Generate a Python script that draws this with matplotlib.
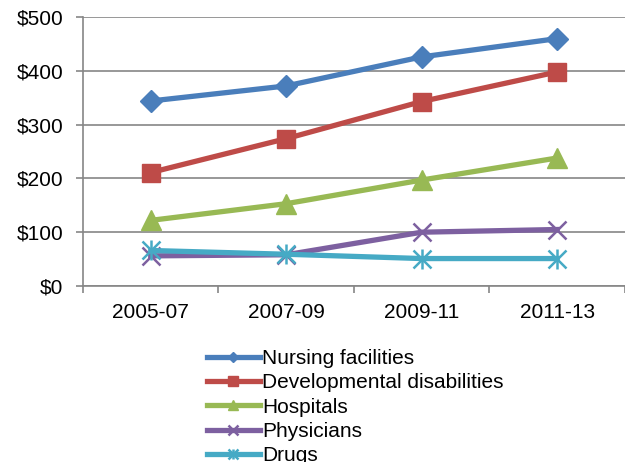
import matplotlib
matplotlib.use("Agg")
import matplotlib.pyplot as plt
from matplotlib.legend_handler import HandlerTuple
from matplotlib.ticker import FuncFormatter

plt.rcParams['font.family'] = ['Liberation Sans', 'DejaVu Sans']

periods = ["2005-07", "2007-09", "2009-11", "2011-13"]
nursing = [344, 372, 426, 460]
developmental = [211, 274, 343, 398]
hospitals = [122, 153, 197, 238]
physicians = [56, 58, 100, 105]
drugs = [66, 59, 51, 51]

names = ["Nursing facilities", "Developmental disabilities", "Hospitals", "Physicians", "Drugs"]
colors = ["#4A7EBB", "#BE4B48", "#98B954", "#7D60A0", "#46AAC5"]

fig = plt.figure(figsize=(6.25, 4.62), dpi=100)
ax = fig.add_axes([0.1328, 0.381, 0.867, 0.582])

x = list(range(len(periods)))
lw = 3.8
handles = []
h, = ax.plot(x, nursing, color=colors[0], lw=lw, marker='D', ms=11, zorder=5)
handles.append(h)
h, = ax.plot(x, developmental, color=colors[1], lw=lw, marker='s', ms=13, zorder=4)
handles.append(h)
h, = ax.plot(x, hospitals, color=colors[2], lw=lw, marker='^', ms=15, zorder=3)
handles.append(h)
h, = ax.plot(x, physicians, color=colors[3], lw=lw, marker='x', ms=13, mew=1.8, zorder=2)
handles.append(h)
h1, = ax.plot(x, drugs, color=colors[4], lw=lw, marker='x', ms=13, mew=1.8, zorder=6)
h2, = ax.plot(x, drugs, color=colors[4], lw=0, marker='|', ms=15, mew=1.8, zorder=6)
handles.append((h1, h2))

ax.set_xlim(-0.5, 3.5)
ax.set_ylim(0, 500)
ax.set_yticks(range(0, 501, 100))
ax.yaxis.set_major_formatter(FuncFormatter(lambda v, p: f"${int(v)}"))
ax.set_xticks(x)
ax.set_xticklabels(periods)
ax.set_xticks([-0.5, 0.5, 1.5, 2.5, 3.5], minor=True)
ax.tick_params(axis='x', which='major', length=0, labelsize=15, pad=12)
ax.tick_params(axis='x', which='minor', length=5, color='#868686', width=1.2)
ax.tick_params(axis='y', length=5, color='#868686', width=1.2, labelsize=15, pad=9)

ax.grid(axis='y', color='#868686', lw=1.2)
ax.set_axisbelow(True)
for s in ['top', 'right']:
    ax.spines[s].set_visible(False)
for s in ['left', 'bottom']:
    ax.spines[s].set_color('#868686')
    ax.spines[s].set_linewidth(1.2)

leg = fig.legend(handles, names, loc='upper left', bbox_to_anchor=(0.331, 0.244),
                 frameon=False, fontsize=15, handlelength=2.55, handletextpad=0.1,
                 labelspacing=0.25, borderpad=0, borderaxespad=0, markerscale=0.5,
                 handler_map={tuple: HandlerTuple(ndivide=1, pad=0)})

fig.savefig("out.png", dpi=100)
